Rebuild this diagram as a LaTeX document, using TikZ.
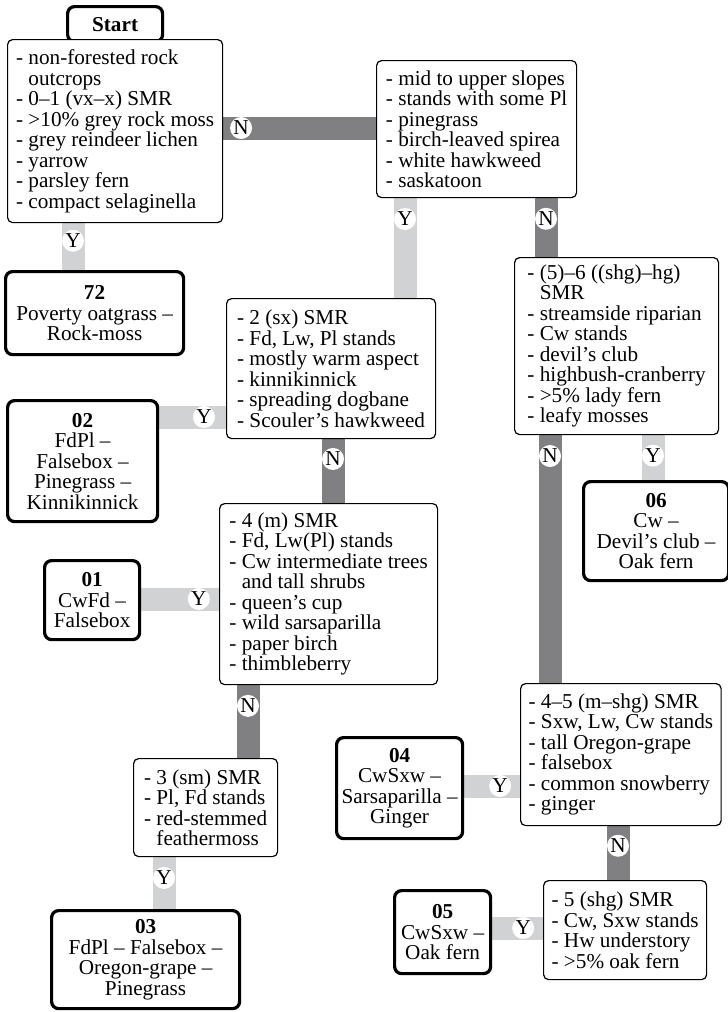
\documentclass[tikz,border=0pt]{standalone}
\usepackage{fontspec}
\setmainfont{Liberation Serif}
\usetikzlibrary{calc,positioning,backgrounds}
\definecolor{nogrey}{RGB}{128,128,131}
\definecolor{yesgrey}{RGB}{209,210,212}
\newcommand{\keyfont}{\fontsize{10.6}{10.25}\selectfont}

\begin{document}
\begin{tikzpicture}[x=0.5pt,y=-0.5pt]
          \tikzstyle{qnode} = [draw, line width=0.6pt, fill=white, rounded corners=2.5pt, inner xsep=4pt, inner ysep=0pt, align=left, anchor=north west, font=\keyfont]
          \tikzstyle{rnode} = [draw, line width=1.6pt, fill=white, rounded corners=3.5pt, inner sep=0pt, align=center, anchor=north west, font=\keyfont]
          \tikzstyle{nbar} = [draw=nogrey, line width=11.5pt]
          \tikzstyle{ybar} = [draw=yesgrey, line width=11.5pt]
          \tikzstyle{lab} = [circle, fill=white, inner sep=0pt, minimum size=11pt, font=\keyfont]

          \useasboundingbox (0,0) rectangle (728,1012);

          \node[rnode, minimum width=47.5pt, minimum height=17.5pt, font=\keyfont\bfseries] (start) at (66,5) {Start};

          \node[qnode, minimum width=107.5pt, minimum height=91.5pt] (q1) at (7,39) {- non-forested rock\\\phantom{- }outcrops\\- 0--1 (vx--x) SMR\\- >10\% grey rock moss\\- grey reindeer lichen\\- yarrow\\- parsley fern\\- compact selaginella};
          \node[qnode, minimum width=100pt, minimum height=68.5pt] (q2) at (376,60) {- mid to upper slopes\\- stands with some Pl\\- pinegrass\\- birch-leaved spirea\\- white hawkweed\\- saskatoon};
          \node[qnode, minimum width=104.5pt, minimum height=70pt] (q3) at (226,298) {- 2 (sx) SMR\\- Fd, Lw, Pl stands\\- mostly warm aspect\\- kinnikinnick\\- spreading dogbane\\- Scouler's hawkweed};
          \node[qnode, minimum width=102pt, minimum height=88.5pt] (q4) at (514,257) {- (5)--6 ((shg)--hg)\\\phantom{- }SMR\\- streamside riparian\\- Cw stands\\- devil's club\\- highbush-cranberry\\- >5\% lady fern\\- leafy mosses};
          \node[qnode, minimum width=109pt, minimum height=90.5pt] (q5) at (219,503) {- 4 (m) SMR\\- Fd, Lw(Pl) stands\\- Cw intermediate trees\\\phantom{- }and tall shrubs\\- queen's cup\\- wild sarsaparilla\\- paper birch\\- thimbleberry};
          \node[qnode, minimum width=72pt, minimum height=49pt] (q6) at (133,758) {- 3 (sm) SMR\\- Pl, Fd stands\\- red-stemmed\\\phantom{- }feathermoss};
          \node[qnode, minimum width=98.5pt, minimum height=71pt] (q7) at (520,683) {- 4--5 (m--shg) SMR\\- Sxw, Lw, Cw stands\\- tall Oregon-grape\\- falsebox\\- common snowberry\\- ginger};
          \node[qnode, minimum width=78.5pt, minimum height=49.5pt] (q8) at (543,880) {- 5 (shg) SMR\\- Cw, Sxw stands\\- Hw understory\\- >5\% oak fern};

          \node[rnode, minimum width=89pt, minimum height=41.5pt] (r72) at (4,270) {\textbf{72}\\Poverty oatgrass --\\Rock-moss};
          \node[rnode, minimum width=75pt, minimum height=60.5pt] (r02) at (6,399) {\textbf{02}\\FdPl --\\Falsebox --\\Pinegrass --\\Kinnikinnick};
          \node[rnode, minimum width=47.5pt, minimum height=39.5pt] (r01) at (43,559) {\textbf{01}\\CwFd --\\Falsebox};
          \node[rnode, minimum width=94pt, minimum height=49pt] (r03) at (50,909) {\textbf{03}\\FdPl -- Falsebox --\\Oregon-grape --\\Pinegrass};
          \node[rnode, minimum width=63pt, minimum height=50.5pt] (r04) at (335,736) {\textbf{04}\\CwSxw --\\Sarsaparilla --\\Ginger};
          \node[rnode, minimum width=48pt, minimum height=41.5pt] (r05) at (393,889) {\textbf{05}\\CwSxw --\\Oak fern};
          \node[rnode, minimum width=72.5pt, minimum height=49.5pt] (r06) at (582,480) {\textbf{06}\\Cw --\\Devil's club --\\Oak fern};

          \begin{scope}[on background layer]
            \draw[ybar] ([xshift=33pt]q1.south west) -- ([xshift=33pt]q1.south west |- r72.north) node[lab, pos=0.375] {Y};
            \draw[nbar] ([yshift=-44.5pt]q1.north east) -- ([yshift=-44.5pt]q1.north east -| q2.west) node[lab, pos=0.117] {N};
            \draw[ybar] ([xshift=14.5pt]q2.south west) -- ([xshift=14.5pt]q2.south west |- q3.north) node[lab, pos=0.208] {Y};
            \draw[nbar] ([xshift=85pt]q2.south west) -- ([xshift=85pt]q2.south west |- q4.north) node[lab, pos=0.35] {N};
            \draw[ybar] ([yshift=-59.5pt]q3.north west) -- ([yshift=-59.5pt]q3.north west -| r02.east) node[lab, pos=0.33] {Y};
            \draw[nbar] ([xshift=53.5pt]q3.south west) -- ([xshift=53.5pt]q3.south west |- q5.north) node[lab, pos=0.31] {N};
            \draw[ybar] ([xshift=69.5pt]q4.south west) -- ([xshift=69.5pt]q4.south west |- r06.north) node[lab, pos=0.457] {Y};
            \draw[nbar] ([xshift=18pt]q4.south west) -- ([xshift=18pt]q4.south west |- q7.north) node[lab, pos=0.084] {N};
            \draw[ybar] ([yshift=-48pt]q5.north west) -- ([yshift=-48pt]q5.north west -| r01.east) node[lab, pos=0.26] {Y};
            \draw[nbar] ([xshift=14.5pt]q5.south west) -- ([xshift=14.5pt]q5.south west |- q6.north) node[lab, pos=0.284] {N};
            \draw[ybar] ([xshift=15.5pt]q6.south west) -- ([xshift=15.5pt]q6.south west |- r03.north) node[lab, pos=0.4] {Y};
            \draw[ybar] ([yshift=-51.5pt]q7.north west) -- ([yshift=-51.5pt]q7.north west -| r04.east) node[lab, pos=0.356] {Y};
            \draw[nbar] ([xshift=49pt]q7.south west) -- ([xshift=49pt]q7.south west |- q8.north) node[lab, pos=0.364] {N};
            \draw[ybar] ([yshift=-24pt]q8.north west) -- ([yshift=-24pt]q8.north west -| r05.east) node[lab, pos=0.39] {Y};
          \end{scope}
        \end{tikzpicture}
\end{document}
